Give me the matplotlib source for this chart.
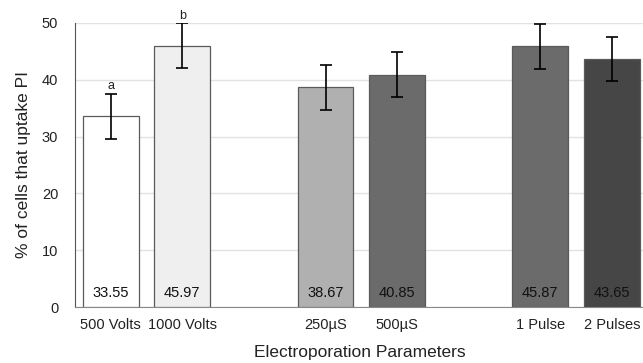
import matplotlib
matplotlib.use("Agg")
import matplotlib.pyplot as plt

plt.rcParams['font.family'] = ['Liberation Sans', 'DejaVu Sans']

# Data
categories = ["500 Volts", "1000 Volts", "250µS", "500µS", "1 Pulse", "2 Pulses"]
values = [33.55, 45.97, 38.67, 40.85, 45.87, 43.65]
errors = [3.95, 3.95, 3.95, 3.95, 3.95, 3.95]
positions = [0, 1, 3, 4, 6, 7]
letters = ["a", "b", "", "", "", ""]
colors = ["#ffffff", "#efefef", "#b0b0b0", "#6b6b6b", "#6b6b6b", "#464646"]

fig = plt.figure(figsize=(6.43, 3.63), dpi=100)
ax = fig.add_axes([0.1166, 0.154, 0.885, 0.783])

ax.bar(positions, values, width=0.78, color=colors, edgecolor="#5a5a5a",
       linewidth=0.9, zorder=3)
ax.errorbar(positions, values, yerr=errors, fmt="none", ecolor="black",
            elinewidth=1.2, capsize=4, capthick=1.2, zorder=4)

for p, v, e, lab in zip(positions, values, errors, letters):
    ax.text(p, 1.2, "%.2f" % v, ha="center", va="bottom", fontsize=10.5, color="#111111", zorder=5)
    if lab:
        ax.text(p, v + e + 0.3, lab, ha="center", va="bottom", fontsize=9, color="#222222")

ax.set_xlim(-0.5, 7.45)
ax.set_ylim(0, 50)
ax.set_yticks([0, 10, 20, 30, 40, 50])
ax.set_xticks(positions)
ax.set_xticklabels(categories)
ax.tick_params(axis="both", length=0, labelsize=10.5, colors="#222222")
ax.tick_params(axis="x", pad=8)
ax.tick_params(axis="y", pad=12)
ax.yaxis.grid(True, color="#e2e2e2", linewidth=1, zorder=0)
ax.set_axisbelow(True)

for s in ["top", "right"]:
    ax.spines[s].set_visible(False)
ax.spines["left"].set_color("#555555")
ax.spines["bottom"].set_color("#888888")

ax.set_ylabel("% of cells that uptake PI", fontsize=12.5, color="#222222", labelpad=8)
ax.set_xlabel("Electroporation Parameters", fontsize=12.5, color="#222222", labelpad=9)

fig.savefig("out.png", dpi=100)
